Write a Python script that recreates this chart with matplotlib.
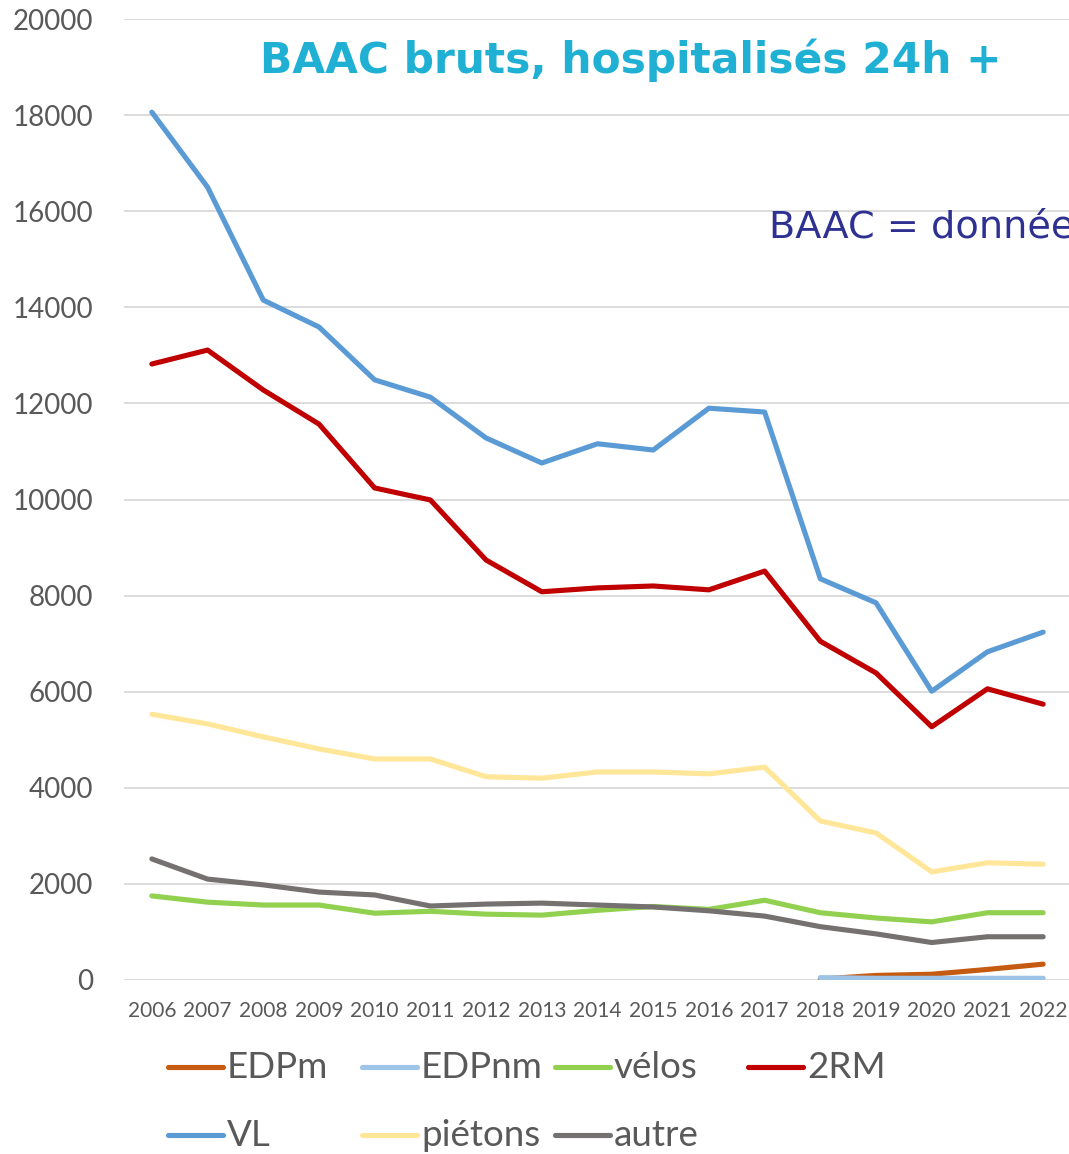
import numpy as np
import matplotlib
matplotlib.use("Agg")
import matplotlib.pyplot as plt
from matplotlib.lines import Line2D

# Data
years = list(range(2006, 2023))
nan = np.nan
edpm = [nan] * 12 + [20, 95, 120, 220, 330]
edpnm = [nan] * 12 + [50, 35, 35, 35, 35]
velos = [1750, 1620, 1560, 1560, 1390, 1430, 1370, 1350, 1450, 1530, 1470, 1660, 1400, 1290, 1210, 1400, 1400]
deux_rm = [12820, 13110, 12280, 11570, 10240, 9990, 8740, 8080, 8160, 8200, 8120, 8510, 7050, 6390, 5270, 6060, 5740]
vl = [18060, 16500, 14150, 13590, 12490, 12130, 11280, 10760, 11160, 11030, 11900, 11820, 8350, 7850, 6010, 6830, 7240]
pietons = [5530, 5330, 5060, 4810, 4600, 4600, 4230, 4200, 4330, 4330, 4290, 4430, 3310, 3060, 2250, 2440, 2410]
autre = [2520, 2100, 1980, 1830, 1770, 1540, 1580, 1600, 1560, 1520, 1440, 1330, 1110, 960, 780, 900, 900]

series = [
    ("EDPm", edpm, "#C55A11"),
    ("EDPnm", edpnm, "#9DC3E6"),
    ("vélos", velos, "#92D050"),
    ("2RM", deux_rm, "#C00000"),
    ("VL", vl, "#5B9BD5"),
    ("piétons", pietons, "#FFE699"),
    ("autre", autre, "#767171"),
]

W, H = 1069, 1154
fig = plt.figure(figsize=(W / 100, H / 100), dpi=100)
ax = fig.add_axes([124 / W, 174 / H, (1071 - 124) / W, (980 - 19) / H])

for name, vals, col in series:
    ax.plot(years, vals, color=col, lw=3.7, solid_capstyle="round",
            solid_joinstyle="round", zorder=3)

ax.set_xlim(2005.5, 2022.5)
ax.set_ylim(0, 20000)
ax.set_yticks(np.arange(0, 20001, 2000))
ax.set_xticks(years)
ax.set_xticklabels([str(y) for y in years])
ax.grid(axis="y", color="#D9D9D9", lw=1.3, zorder=0)
ax.set_axisbelow(True)
for s in ax.spines.values():
    s.set_visible(False)
ax.tick_params(length=0, colors="#595959")
ax.tick_params(axis="y", labelsize=20, pad=22)
ax.tick_params(axis="x", labelsize=15, pad=15)
for lab in ax.get_xticklabels() + ax.get_yticklabels():
    lab.set_fontfamily("Lato")

# Titles
fig.text(631 / W, 1 - 60 / H, "BAAC bruts, hospitalisés 24h +", ha="center", va="center",
         fontsize=30.5, fontweight="bold", color="#1FB0D4", family="DejaVu Sans")
# this note runs past the right edge in the original as well
fig.text(769 / W, 1 - 228 / H, "BAAC = données", ha="left", va="center",
         fontsize=27.5, color="#2E3192", family="DejaVu Sans")

# Legend, laid out like the original (4 fixed-width columns)
col_x = [168, 362, 555, 748]
row_y = [1067, 1135]
for i, (name, vals, col) in enumerate(series):
    cx = col_x[i % 4]
    cy = 1 - row_y[i // 4] / H
    fig.add_artist(Line2D([cx / W, (cx + 55) / W], [cy, cy], color=col, lw=3.7,
                          solid_capstyle="round", transform=fig.transFigure))
    fig.text((cx + 59) / W, cy, name, ha="left", va="center", fontsize=26.5,
             color="#595959", family="Lato")

fig.savefig("out.png", dpi=100)
